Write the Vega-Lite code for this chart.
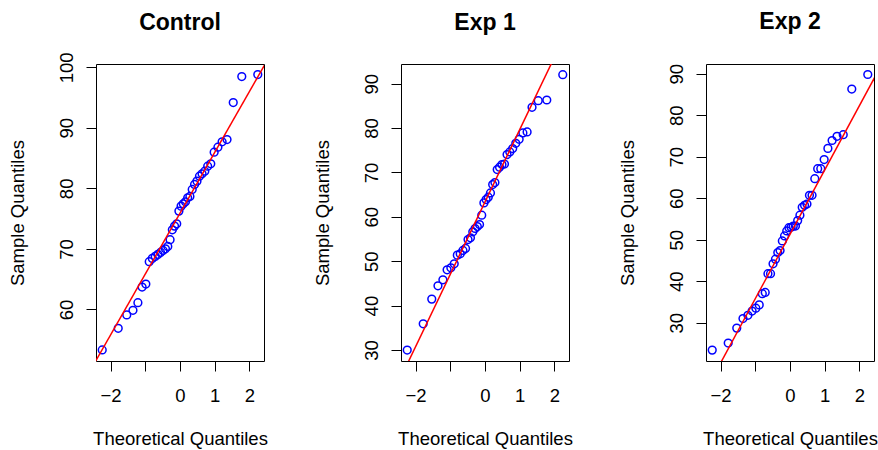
{
  "$schema": "https://vega.github.io/schema/vega-lite/v6.json",
  "padding": {"left": 8, "top": 10, "right": 0, "bottom": 0},
  "bounds": "flush",
  "spacing": 137,
  "config": {
    "font": "Liberation Sans",
    "view": {"stroke": "black", "strokeWidth": 1},
    "axis": {
      "domain": false,
      "grid": false,
      "tickColor": "black",
      "tickSize": 10,
      "tickWidth": 1,
      "labelFontSize": 18.5,
      "labelColor": "black",
      "labelOverlap": false,
      "labelFlush": false,
      "titleFontSize": 18.5,
      "titleFontWeight": "normal",
      "titleColor": "black"
    },
    "axisX": {
      "values": [-2, -1, 0, 1, 2],
      "labelExpr": "datum.value === -1 ? '' : datum.label",
      "labelBaseline": "alphabetic",
      "labelPadding": 30,
      "titleX": 84,
      "titleY": 83.7,
      "titleAlign": "center",
      "titleBaseline": "alphabetic"
    },
    "axisY": {
      "labelAngle": -90,
      "labelAlign": "center",
      "labelBaseline": "alphabetic",
      "labelPadding": 13.3,
      "titleAngle": -90,
      "titleX": -72.3,
      "titleY": 148.5,
      "titleAlign": "center",
      "titleBaseline": "alphabetic"
    }
  },
  "datasets": {
    "qq": [
      {"group": "Control", "q": -2.2414, "y": 53.3},
      {"group": "Control", "q": -1.7805, "y": 56.88},
      {"group": "Control", "q": -1.5341, "y": 59.08},
      {"group": "Control", "q": -1.3555, "y": 59.85},
      {"group": "Control", "q": -1.2133, "y": 61.11},
      {"group": "Control", "q": -1.092, "y": 63.7},
      {"group": "Control", "q": -0.9842, "y": 64.19},
      {"group": "Control", "q": -0.8871, "y": 67.88},
      {"group": "Control", "q": -0.7978, "y": 68.43},
      {"group": "Control", "q": -0.7144, "y": 68.76},
      {"group": "Control", "q": -0.6356, "y": 69.09},
      {"group": "Control", "q": -0.5607, "y": 69.42},
      {"group": "Control", "q": -0.4888, "y": 69.75},
      {"group": "Control", "q": -0.4193, "y": 70.02},
      {"group": "Control", "q": -0.3518, "y": 70.41},
      {"group": "Control", "q": -0.2858, "y": 71.51},
      {"group": "Control", "q": -0.2211, "y": 73.16},
      {"group": "Control", "q": -0.1573, "y": 73.76},
      {"group": "Control", "q": -0.0941, "y": 74.15},
      {"group": "Control", "q": -0.0313, "y": 76.24},
      {"group": "Control", "q": 0.0313, "y": 77.06},
      {"group": "Control", "q": 0.0941, "y": 77.45},
      {"group": "Control", "q": 0.1573, "y": 77.78},
      {"group": "Control", "q": 0.2211, "y": 78.44},
      {"group": "Control", "q": 0.2858, "y": 78.66},
      {"group": "Control", "q": 0.3518, "y": 79.81},
      {"group": "Control", "q": 0.4193, "y": 80.64},
      {"group": "Control", "q": 0.4888, "y": 81.19},
      {"group": "Control", "q": 0.5607, "y": 82.01},
      {"group": "Control", "q": 0.6356, "y": 82.4},
      {"group": "Control", "q": 0.7144, "y": 82.84},
      {"group": "Control", "q": 0.7978, "y": 83.66},
      {"group": "Control", "q": 0.8871, "y": 84.05},
      {"group": "Control", "q": 0.9842, "y": 85.97},
      {"group": "Control", "q": 1.092, "y": 86.8},
      {"group": "Control", "q": 1.2133, "y": 87.68},
      {"group": "Control", "q": 1.3555, "y": 88.06},
      {"group": "Control", "q": 1.5341, "y": 94.17},
      {"group": "Control", "q": 1.7805, "y": 98.46},
      {"group": "Control", "q": 2.2414, "y": 98.79},
      {"group": "Exp 1", "q": -2.2414, "y": 29.98},
      {"group": "Exp 1", "q": -1.7805, "y": 35.91},
      {"group": "Exp 1", "q": -1.5341, "y": 41.46},
      {"group": "Exp 1", "q": -1.3555, "y": 44.46},
      {"group": "Exp 1", "q": -1.2133, "y": 45.81},
      {"group": "Exp 1", "q": -1.092, "y": 48.06},
      {"group": "Exp 1", "q": -0.9842, "y": 48.51},
      {"group": "Exp 1", "q": -0.8871, "y": 49.41},
      {"group": "Exp 1", "q": -0.7978, "y": 51.37},
      {"group": "Exp 1", "q": -0.7144, "y": 51.67},
      {"group": "Exp 1", "q": -0.6356, "y": 52.42},
      {"group": "Exp 1", "q": -0.5607, "y": 52.87},
      {"group": "Exp 1", "q": -0.4888, "y": 54.89},
      {"group": "Exp 1", "q": -0.4193, "y": 55.27},
      {"group": "Exp 1", "q": -0.3518, "y": 56.62},
      {"group": "Exp 1", "q": -0.2858, "y": 57.37},
      {"group": "Exp 1", "q": -0.2211, "y": 57.82},
      {"group": "Exp 1", "q": -0.1573, "y": 58.27},
      {"group": "Exp 1", "q": -0.0941, "y": 60.37},
      {"group": "Exp 1", "q": -0.0313, "y": 63.14},
      {"group": "Exp 1", "q": 0.0313, "y": 63.89},
      {"group": "Exp 1", "q": 0.0941, "y": 64.42},
      {"group": "Exp 1", "q": 0.1573, "y": 65.39},
      {"group": "Exp 1", "q": 0.2211, "y": 67.27},
      {"group": "Exp 1", "q": 0.2858, "y": 67.72},
      {"group": "Exp 1", "q": 0.3518, "y": 70.65},
      {"group": "Exp 1", "q": 0.4193, "y": 71.17},
      {"group": "Exp 1", "q": 0.4888, "y": 71.77},
      {"group": "Exp 1", "q": 0.5607, "y": 71.9},
      {"group": "Exp 1", "q": 0.6356, "y": 74.02},
      {"group": "Exp 1", "q": 0.7144, "y": 74.62},
      {"group": "Exp 1", "q": 0.7978, "y": 75.37},
      {"group": "Exp 1", "q": 0.8871, "y": 76.57},
      {"group": "Exp 1", "q": 0.9842, "y": 77.47},
      {"group": "Exp 1", "q": 1.092, "y": 78.9},
      {"group": "Exp 1", "q": 1.2133, "y": 79.12},
      {"group": "Exp 1", "q": 1.3555, "y": 84.67},
      {"group": "Exp 1", "q": 1.5341, "y": 86.17},
      {"group": "Exp 1", "q": 1.7805, "y": 86.32},
      {"group": "Exp 1", "q": 2.2414, "y": 92.03},
      {"group": "Exp 2", "q": -2.2414, "y": 23.4},
      {"group": "Exp 2", "q": -1.7805, "y": 25.1},
      {"group": "Exp 2", "q": -1.5341, "y": 28.7},
      {"group": "Exp 2", "q": -1.3555, "y": 31.0},
      {"group": "Exp 2", "q": -1.2133, "y": 31.8},
      {"group": "Exp 2", "q": -1.092, "y": 32.8},
      {"group": "Exp 2", "q": -0.9842, "y": 33.5},
      {"group": "Exp 2", "q": -0.8871, "y": 34.3},
      {"group": "Exp 2", "q": -0.7978, "y": 37.0},
      {"group": "Exp 2", "q": -0.7144, "y": 37.3},
      {"group": "Exp 2", "q": -0.6356, "y": 41.8},
      {"group": "Exp 2", "q": -0.5607, "y": 41.8},
      {"group": "Exp 2", "q": -0.4888, "y": 44.2},
      {"group": "Exp 2", "q": -0.4193, "y": 45.3},
      {"group": "Exp 2", "q": -0.3518, "y": 46.9},
      {"group": "Exp 2", "q": -0.2858, "y": 47.4},
      {"group": "Exp 2", "q": -0.2211, "y": 49.7},
      {"group": "Exp 2", "q": -0.1573, "y": 50.9},
      {"group": "Exp 2", "q": -0.0941, "y": 52.1},
      {"group": "Exp 2", "q": -0.0313, "y": 52.9},
      {"group": "Exp 2", "q": 0.0313, "y": 53.0},
      {"group": "Exp 2", "q": 0.0941, "y": 53.3},
      {"group": "Exp 2", "q": 0.1573, "y": 53.3},
      {"group": "Exp 2", "q": 0.2211, "y": 54.6},
      {"group": "Exp 2", "q": 0.2858, "y": 55.9},
      {"group": "Exp 2", "q": 0.3518, "y": 57.8},
      {"group": "Exp 2", "q": 0.4193, "y": 58.3},
      {"group": "Exp 2", "q": 0.4888, "y": 58.6},
      {"group": "Exp 2", "q": 0.5607, "y": 60.7},
      {"group": "Exp 2", "q": 0.6356, "y": 60.7},
      {"group": "Exp 2", "q": 0.7144, "y": 64.7},
      {"group": "Exp 2", "q": 0.7978, "y": 67.1},
      {"group": "Exp 2", "q": 0.8871, "y": 67.1},
      {"group": "Exp 2", "q": 0.9842, "y": 69.3},
      {"group": "Exp 2", "q": 1.092, "y": 72.0},
      {"group": "Exp 2", "q": 1.2133, "y": 73.9},
      {"group": "Exp 2", "q": 1.3555, "y": 74.9},
      {"group": "Exp 2", "q": 1.5341, "y": 75.3},
      {"group": "Exp 2", "q": 1.7805, "y": 86.3},
      {"group": "Exp 2", "q": 2.2414, "y": 89.8}
    ],
    "qqline": [
      {"group": "Control", "q": -2.6, "y": 49.77},
      {"group": "Control", "q": 2.6, "y": 102.03},
      {"group": "Exp 1", "q": -2.6, "y": 20.97},
      {"group": "Exp 1", "q": 2.6, "y": 105.73},
      {"group": "Exp 2", "q": -2.6, "y": 11.0},
      {"group": "Exp 2", "q": 2.6, "y": 91.6}
    ]
  },
  "hconcat": [
    {
      "width": 168,
      "height": 297,
      "title": {"text": "Control", "fontSize": 23, "fontWeight": "bold", "color": "black", "frame": "group", "anchor": "middle", "baseline": "alphabetic", "offset": -1.6},
      "layer": [
        {
          "data": {"name": "qq"},
          "transform": [{"filter": "datum.group === 'Control'"}],
          "mark": {"type": "point", "shape": "circle", "filled": false, "color": "#0000FF", "opacity": 1, "size": 60, "strokeWidth": 1.5},
          "encoding": {
            "x": {"field": "q", "type": "quantitative", "title": "Theoretical Quantiles", "scale": {"domain": [-2.4207, 2.4207], "nice": false, "zero": false}},
            "y": {"field": "y", "type": "quantitative", "title": "Sample Quantiles", "scale": {"domain": [51.48, 100.54], "nice": false, "zero": false}, "axis": {"values": [60, 70, 80, 90, 100]}}
          }
        },
        {
          "data": {"name": "qqline"},
          "transform": [{"filter": "datum.group === 'Control'"}],
          "mark": {"type": "line", "color": "#FF0000", "strokeWidth": 1.5, "clip": true},
          "encoding": {
            "x": {"field": "q", "type": "quantitative"},
            "y": {"field": "y", "type": "quantitative"}
          }
        }
      ]
    },
    {
      "width": 168,
      "height": 297,
      "title": {"text": "Exp 1", "fontSize": 23, "fontWeight": "bold", "color": "black", "frame": "group", "anchor": "middle", "baseline": "alphabetic", "offset": 11.4},
      "layer": [
        {
          "data": {"name": "qq"},
          "transform": [{"filter": "datum.group === 'Exp 1'"}],
          "mark": {"type": "point", "shape": "circle", "filled": false, "color": "#0000FF", "opacity": 1, "size": 60, "strokeWidth": 1.5},
          "encoding": {
            "x": {"field": "q", "type": "quantitative", "title": "Theoretical Quantiles", "scale": {"domain": [-2.4207, 2.4207], "nice": false, "zero": false}},
            "y": {"field": "y", "type": "quantitative", "title": "Sample Quantiles", "scale": {"domain": [27.52, 94.43], "nice": false, "zero": false}, "axis": {"values": [30, 40, 50, 60, 70, 80, 90]}}
          }
        },
        {
          "data": {"name": "qqline"},
          "transform": [{"filter": "datum.group === 'Exp 1'"}],
          "mark": {"type": "line", "color": "#FF0000", "strokeWidth": 1.5, "clip": true},
          "encoding": {
            "x": {"field": "q", "type": "quantitative"},
            "y": {"field": "y", "type": "quantitative"}
          }
        }
      ]
    },
    {
      "width": 168,
      "height": 297,
      "title": {"text": "Exp 2", "fontSize": 23, "fontWeight": "bold", "color": "black", "frame": "group", "anchor": "middle", "baseline": "alphabetic", "offset": 11.4},
      "layer": [
        {
          "data": {"name": "qq"},
          "transform": [{"filter": "datum.group === 'Exp 2'"}],
          "mark": {"type": "point", "shape": "circle", "filled": false, "color": "#0000FF", "opacity": 1, "size": 60, "strokeWidth": 1.5},
          "encoding": {
            "x": {"field": "q", "type": "quantitative", "title": "Theoretical Quantiles", "scale": {"domain": [-2.4207, 2.4207], "nice": false, "zero": false}},
            "y": {"field": "y", "type": "quantitative", "title": "Sample Quantiles", "scale": {"domain": [20.78, 92.33], "nice": false, "zero": false}, "axis": {"values": [30, 40, 50, 60, 70, 80, 90]}}
          }
        },
        {
          "data": {"name": "qqline"},
          "transform": [{"filter": "datum.group === 'Exp 2'"}],
          "mark": {"type": "line", "color": "#FF0000", "strokeWidth": 1.5, "clip": true},
          "encoding": {
            "x": {"field": "q", "type": "quantitative"},
            "y": {"field": "y", "type": "quantitative"}
          }
        }
      ]
    }
  ]
}
